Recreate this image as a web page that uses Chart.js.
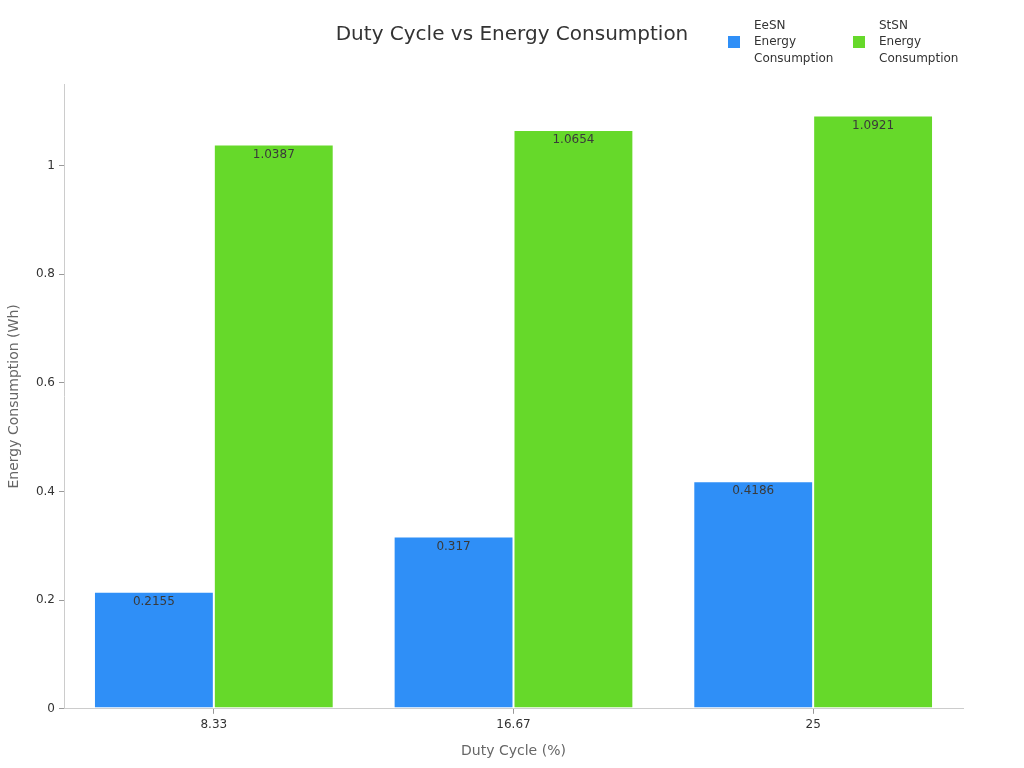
<!DOCTYPE html>
<html>
<head>
<meta charset="utf-8">
<script src="https://cdn.jsdelivr.net/npm/chart.js@4"></script>
<style>
  html, body { margin: 0; padding: 0; background: #fff; }
  #wrap { width: 1024px; height: 768px; }
</style>
</head>
<body>
<div id="wrap"><canvas id="chart"></canvas></div>
<script>
const dutyCycles = ['8.33', '16.67', '25'];
const eesnEnergy = [0.2155, 0.317, 0.4186];
const stsnEnergy = [1.0387, 1.0654, 1.0921];
const seriesNames = [['EeSN', 'Energy', 'Consumption'], ['StSN', 'Energy', 'Consumption']];
const seriesColors = ['#2f8ff7', '#66d92a'];
const chartTitle = 'Duty Cycle vs Energy Consumption';

// value labels inside the top of each bar
const barLabels = {
    id: 'barLabels',
    afterDatasetsDraw(chart) {
        const ctx = chart.ctx;
        ctx.save();
        ctx.font = '12px "DejaVu Sans"';
        ctx.fillStyle = '#3a3a3a';
        ctx.textAlign = 'center';
        ctx.textBaseline = 'middle';
        chart.data.datasets.forEach((ds, i) => {
            chart.getDatasetMeta(i).data.forEach((bar, j) => {
                ctx.fillText(String(ds.data[j]), bar.x, bar.y + 10);
            });
        });
        ctx.restore();
    }
};

// title centred on the page, legend at top right with wrapped names
const header = {
    id: 'header',
    afterDraw(chart) {
        const ctx = chart.ctx;
        ctx.save();
        ctx.textBaseline = 'middle';
        ctx.font = '20px "DejaVu Sans"';
        ctx.fillStyle = '#333';
        ctx.textAlign = 'center';
        ctx.fillText(chartTitle, chart.width / 2, 35);

        ctx.textAlign = 'left';
        ctx.font = '12px "DejaVu Sans"';
        const starts = [728, 853];
        seriesNames.forEach((lines, i) => {
            ctx.fillStyle = seriesColors[i];
            ctx.fillRect(starts[i], 36, 12, 12);
            ctx.fillStyle = '#333';
            lines.forEach((t, k) => ctx.fillText(t, starts[i] + 26, 25.5 + k * 16.5));
        });
        ctx.restore();
    }
};

new Chart(document.getElementById('chart'), {
    type: 'bar',
    data: {
        labels: dutyCycles,
        datasets: [
            { label: 'EeSN Energy Consumption', data: eesnEnergy, backgroundColor: seriesColors[0] },
            { label: 'StSN Energy Consumption', data: stsnEnergy, backgroundColor: seriesColors[1] }
        ]
    },
    options: {
        responsive: true,
        maintainAspectRatio: false,
        animation: false,
        layout: { padding: { left: 0, right: 61, top: 84, bottom: 0 } },
        datasets: {
            bar: {
                categoryPercentage: 0.8,
                barPercentage: 1.0,
                borderColor: '#ffffff',
                borderWidth: 1,
                borderSkipped: false
            }
        },
        plugins: {
            legend: { display: false },
            tooltip: { enabled: false },
            title: { display: false }
        },
        scales: {
            x: {
                grid: { display: true, drawOnChartArea: false, drawTicks: true, tickLength: 5, offset: false, color: '#999' },
                border: { display: true, color: '#ccc' },
                ticks: { color: '#333', font: { family: 'DejaVu Sans', size: 12 }, padding: 4 },
                title: {
                    display: true,
                    text: 'Duty Cycle (%)',
                    color: '#666',
                    font: { family: 'DejaVu Sans', size: 14 },
                    padding: { top: 7, bottom: 8 }
                }
            },
            y: {
                min: 0,
                max: 1.15,
                afterFit(scale) { scale.width = 64; },
                grid: { display: true, drawOnChartArea: false, drawTicks: true, tickLength: 5, color: '#999' },
                border: { display: true, color: '#ccc' },
                ticks: {
                    stepSize: 0.2,
                    includeBounds: false,
                    color: '#333',
                    font: { family: 'DejaVu Sans', size: 12 },
                    padding: 4,
                    callback: v => String(Math.round(v * 10) / 10)
                },
                title: {
                    display: true,
                    text: 'Energy Consumption (Wh)',
                    color: '#666',
                    font: { family: 'DejaVu Sans', size: 14 },
                    padding: { top: 6, bottom: 4 }
                }
            }
        }
    },
    plugins: [barLabels, header]
});
</script>
</body>
</html>
